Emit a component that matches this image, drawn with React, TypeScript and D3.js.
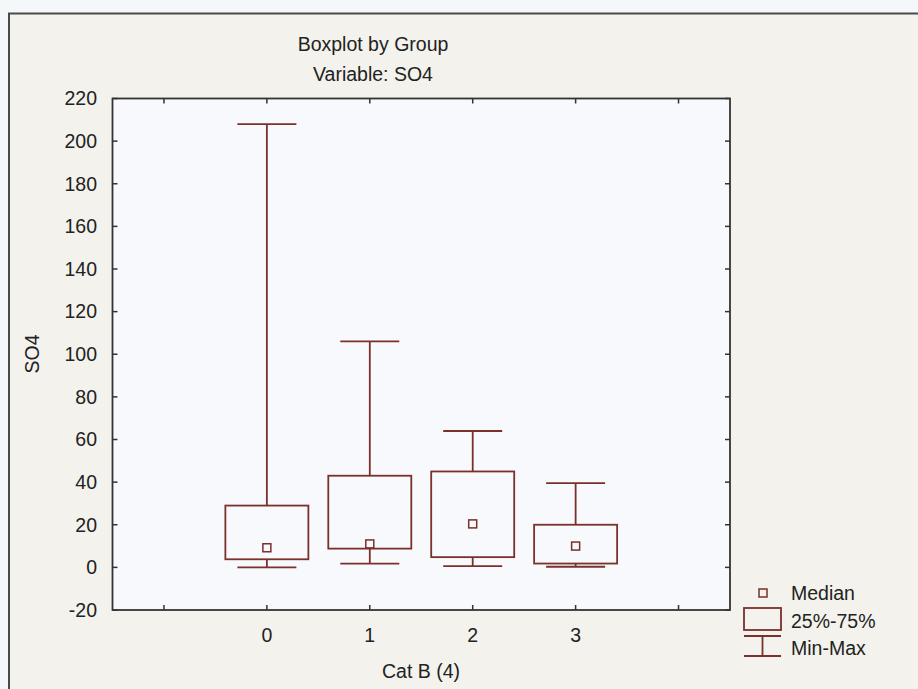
import React from "react";
import * as d3 from "d3";

const categories = ["0", "1", "2", "3"];
const mins = [0, 1.8, 0.6, 0.3];
const q1s = [3.8, 8.8, 4.8, 1.8];
const medians = [9.2, 11, 20.4, 10];
const q3s = [29, 43, 45, 20];
const maxs = [208, 106, 64, 39.5];
const yTicks = [-20, 0, 20, 40, 60, 80, 100, 120, 140, 160, 180, 200, 220];
const xTicks = [-1, 0, 1, 2, 3, 4];

const W = 918;
const H = 689;
const plot = { left: 112.5, right: 730, top: 98.5, bottom: 610 };
const STROKE = "#7a302b";
const FONT = "'Liberation Sans', Arial, sans-serif";
const FS = 19.5;

export default function App() {
  const x = d3.scaleLinear().domain([-1.5, 4.5]).range([plot.left, plot.right]);
  const y = d3.scaleLinear().domain([-20, 220]).range([plot.bottom, plot.top]);
  const boxHalf = 41.5;
  const capHalf = 29.5;
  const med = 4;
  const tickLen = 5;

  return (
    <svg width={W} height={H} style={{ position: "fixed", left: 0, top: 0, background: "#f5f8fa" }}>
      <rect x={9} y={13.5} width={W + 10} height={H} fill="#f3f2ec" stroke="#4a4a4a" strokeWidth={2} />
      <rect x={plot.left} y={plot.top} width={plot.right - plot.left} height={plot.bottom - plot.top} fill="#f8f9fc" />
      {/* title */}
      <text x={373} y={44} dy="0.35em" textAnchor="middle" fontFamily={FONT} fontSize={FS} fill="#222">Boxplot by Group</text>
      <text x={373} y={74} dy="0.35em" textAnchor="middle" fontFamily={FONT} fontSize={FS} fill="#222">Variable: SO4</text>
      {/* y ticks */}
      {yTicks.map((t) => (
        <g key={"y" + t}>
          <line x1={plot.left} x2={plot.left + tickLen} y1={y(t)} y2={y(t)} stroke="#333" strokeWidth={1.5} />
          <line x1={plot.right} x2={plot.right - tickLen} y1={y(t)} y2={y(t)} stroke="#333" strokeWidth={1.5} />
          <text x={97} y={y(t)} dy="0.35em" textAnchor="end" fontFamily={FONT} fontSize={FS} fill="#222">{t}</text>
        </g>
      ))}
      {/* x ticks */}
      {xTicks.map((t) => (
        <g key={"x" + t}>
          <line x1={x(t)} x2={x(t)} y1={plot.bottom} y2={plot.bottom - tickLen} stroke="#333" strokeWidth={1.5} />
          <line x1={x(t)} x2={x(t)} y1={plot.top} y2={plot.top + tickLen} stroke="#333" strokeWidth={1.5} />
        </g>
      ))}
      {categories.map((c, i) => (
        <text key={"xl" + c} x={x(i)} y={635} dy="0.35em" textAnchor="middle" fontFamily={FONT} fontSize={FS} fill="#222">{c}</text>
      ))}
      {/* boxes */}
      {categories.map((c, i) => {
        const cx = x(i);
        return (
          <g key={"b" + c} stroke={STROKE} strokeWidth={1.8} fill="none">
            <line x1={cx} x2={cx} y1={y(maxs[i])} y2={y(q3s[i])} />
            <line x1={cx} x2={cx} y1={y(q1s[i])} y2={y(mins[i])} />
            <line x1={cx - capHalf} x2={cx + capHalf} y1={y(maxs[i])} y2={y(maxs[i])} />
            <line x1={cx - capHalf} x2={cx + capHalf} y1={y(mins[i])} y2={y(mins[i])} />
            <rect x={cx - boxHalf} y={y(q3s[i])} width={boxHalf * 2} height={y(q1s[i]) - y(q3s[i])} />
            <rect x={cx - med} y={y(medians[i]) - med} width={med * 2} height={med * 2} strokeWidth={1.5} />
          </g>
        );
      })}
      <rect x={plot.left} y={plot.top} width={plot.right - plot.left} height={plot.bottom - plot.top} fill="none" stroke="#333" strokeWidth={1.8} />
      {/* axis labels */}
      <text x={421} y={671} dy="0.35em" textAnchor="middle" fontFamily={FONT} fontSize={FS} fill="#222">Cat B (4)</text>
      <text transform="translate(32,354) rotate(-90)" dy="0.35em" textAnchor="middle" fontFamily={FONT} fontSize={FS} fill="#222">SO4</text>
      {/* legend */}
      <g stroke={STROKE} strokeWidth={1.8} fill="none">
        <rect x={759} y={589} width={8} height={8} strokeWidth={1.5} />
        <rect x={744} y={608} width={37} height={22} />
        <line x1={744} x2={781} y1={636} y2={636} />
        <line x1={762.5} x2={762.5} y1={636} y2={656} />
        <line x1={744} x2={781} y1={656} y2={656} />
      </g>
      <text x={791} y={593} dy="0.35em" fontFamily={FONT} fontSize={FS} fill="#222">Median</text>
      <text x={791} y={621} dy="0.35em" fontFamily={FONT} fontSize={FS} fill="#222">25%-75%</text>
      <text x={791} y={648} dy="0.35em" fontFamily={FONT} fontSize={FS} fill="#222">Min-Max</text>
    </svg>
  );
}
